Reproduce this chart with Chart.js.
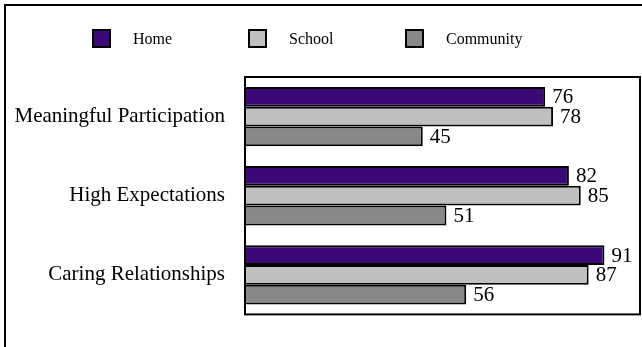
<!DOCTYPE html>
<html>
<head>
<meta charset="utf-8">
<script src="https://cdn.jsdelivr.net/npm/chart.js@4/dist/chart.umd.min.js"></script>
<style>
  html, body { margin: 0; padding: 0; background: #ffffff; }
  #wrap { width: 642px; height: 347px; }
</style>
</head>
<body>
<div id="wrap"><canvas id="chart" width="642" height="347"></canvas></div>
<script>
// Resilience scores by setting
const categories = ['Meaningful Participation', 'High Expectations', 'Caring Relationships'];
const seriesNames = ['Home', 'School', 'Community'];
const homeValues = [76, 82, 91];
const schoolValues = [78, 85, 87];
const communityValues = [45, 51, 56];
const seriesColors = ['#3c0a78', '#c0c0c0', '#888888'];
const axisMin = 0;
const axisMax = 100;

const SERIF = '"Liberation Serif", "Times New Roman", serif';

// White page with a frame running off the right and bottom edges
const framePlugin = {
  id: 'frame',
  beforeDraw(chart) {
    const ctx = chart.ctx;
    ctx.save();
    ctx.fillStyle = '#ffffff';
    ctx.fillRect(0, 0, chart.width, chart.height);
    ctx.strokeStyle = '#000000';
    ctx.lineWidth = 2;
    ctx.strokeRect(5, 5, chart.width + 20, chart.height + 20);
    ctx.restore();
  }
};

// Box round the plotting area
const plotBorderPlugin = {
  id: 'plotBorder',
  afterDatasetsDraw(chart) {
    const { ctx, chartArea: a } = chart;
    ctx.save();
    ctx.strokeStyle = '#000000';
    ctx.lineWidth = 2;
    ctx.strokeRect(a.left, a.top, a.right - a.left, a.bottom - a.top);
    ctx.restore();
  }
};

// Value printed just past the end of each bar
const valueLabelPlugin = {
  id: 'valueLabels',
  afterDatasetsDraw(chart) {
    const ctx = chart.ctx;
    ctx.save();
    ctx.font = '21px ' + SERIF;
    ctx.fillStyle = '#000000';
    ctx.textAlign = 'left';
    ctx.textBaseline = 'middle';
    chart.data.datasets.forEach((ds, di) => {
      chart.getDatasetMeta(di).data.forEach((bar, i) => {
        ctx.fillText(String(ds.data[i]), bar.x + 7, bar.y + 1);
      });
    });
    ctx.restore();
  }
};

// Legend row across the top
const legendRowPlugin = {
  id: 'legendRow',
  afterDraw(chart) {
    const ctx = chart.ctx;
    const starts = [93, 249, 406];
    const boxSize = 17;
    const midY = 38.5;
    ctx.save();
    ctx.font = '16px ' + SERIF;
    ctx.textBaseline = 'middle';
    ctx.textAlign = 'left';
    chart.data.datasets.forEach((ds, i) => {
      const x = starts[i];
      ctx.fillStyle = ds.backgroundColor;
      ctx.fillRect(x, midY - boxSize / 2, boxSize, boxSize);
      ctx.strokeStyle = '#000000';
      ctx.lineWidth = 2;
      ctx.strokeRect(x, midY - boxSize / 2, boxSize, boxSize);
      ctx.fillStyle = '#000000';
      ctx.fillText(ds.label, x + 40, midY + 1);
    });
    ctx.restore();
  }
};

const seriesValues = [homeValues, schoolValues, communityValues];

new Chart(document.getElementById('chart'), {
  type: 'bar',
  data: {
    labels: categories,
    datasets: seriesNames.map((name, i) => ({
      label: name,
      data: seriesValues[i],
      backgroundColor: seriesColors[i],
      borderColor: '#000000',
      borderWidth: 2,
      categoryPercentage: 0.75,
      barPercentage: 1.0
    }))
  },
  options: {
    indexAxis: 'y',
    responsive: false,
    animation: false,
    devicePixelRatio: 1,
    layout: { padding: { top: 77, left: 0, right: 2, bottom: 7 } },
    plugins: {
      legend: { display: false },
      tooltip: { enabled: false }
    },
    scales: {
      x: {
        display: false,
        min: axisMin,
        max: axisMax
      },
      y: {
        grid: { display: false, drawTicks: false },
        border: { display: false },
        ticks: {
          color: '#000000',
          padding: 20,
          font: { family: SERIF, size: 21 }
        },
        afterFit(scale) { scale.width = 245; }
      }
    }
  },
  plugins: [framePlugin, plotBorderPlugin, valueLabelPlugin, legendRowPlugin]
});
</script>
</body>
</html>
